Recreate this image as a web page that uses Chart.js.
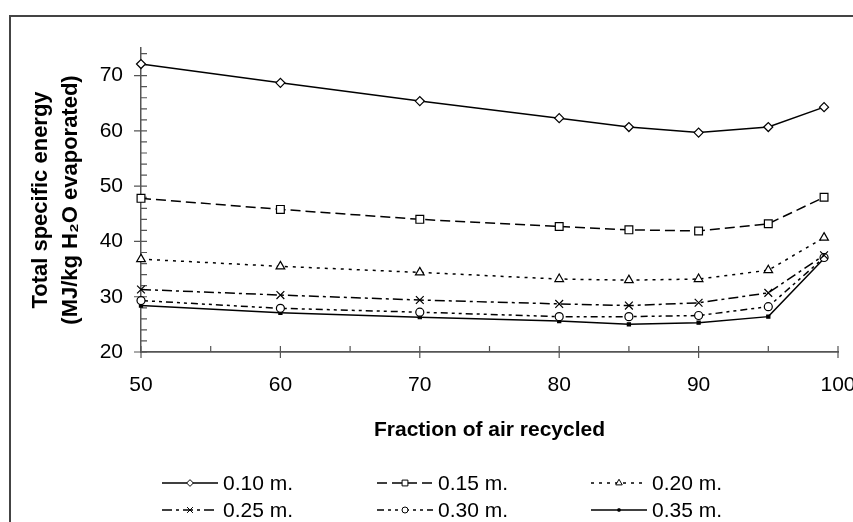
<!DOCTYPE html>
<html>
<head>
<meta charset="utf-8">
<script src="https://cdn.jsdelivr.net/npm/chart.js@4"></script>
<style>
    html, body { margin: 0; padding: 0; background: #fff; overflow: hidden; }
    #frame { position: absolute; left: 9px; top: 15px; width: 1000px; height: 1000px;
             border-left: 2px solid #444; border-top: 2px solid #444; box-sizing: border-box; }
    #wrap { position: absolute; left: 0; top: 0; width: 900px; height: 522px; }
</style>
</head>
<body>
<div id="frame"></div>
<div id="wrap"><canvas id="chart"></canvas></div>
<script>
// Data
const fractions = [50, 60, 70, 80, 85, 90, 95, 99];
const depth010 = [72.1, 68.7, 65.4, 62.3, 60.7, 59.7, 60.7, 64.3];
const depth015 = [47.8, 45.8, 44.0, 42.7, 42.1, 41.9, 43.2, 48.0];
const depth020 = [36.8, 35.5, 34.4, 33.2, 33.0, 33.2, 34.8, 40.7];
const depth025 = [31.3, 30.3, 29.4, 28.7, 28.4, 28.9, 30.7, 37.5];
const depth030 = [29.3, 27.9, 27.2, 26.4, 26.4, 26.6, 28.2, 37.1];
const depth035 = [28.4, 27.1, 26.3, 25.6, 25.0, 25.3, 26.4, 36.9];
const seriesLabels = ['0.10 m.', '0.15 m.', '0.20 m.', '0.25 m.', '0.30 m.', '0.35 m.'];
const xTicks = [50, 60, 70, 80, 90, 100];
const xMinorTicks = [55, 65, 75, 85, 95];
const yTicks = [20, 30, 40, 50, 60, 70];

const FONT = 'Arial, "Liberation Sans", sans-serif';
const AXIS_COLOR = '#555';

function toPoints(values) {
    return values.map((v, i) => ({ x: fractions[i], y: v }));
}

function makeSeries(label, values, style) {
    return Object.assign({
        label: label,
        data: toPoints(values),
        borderColor: '#000',
        borderWidth: 1.5,
        pointBorderColor: '#000',
        pointBackgroundColor: '#fff',
        pointBorderWidth: 1.2,
        tension: 0,
        clip: false
    }, style);
}

const datasets = [
    makeSeries(seriesLabels[0], depth010, { pointStyle: 'rectRot', pointRadius: 4.5 }),
    makeSeries(seriesLabels[1], depth015, { pointStyle: 'rect', pointRadius: 5.5, borderDash: [10, 5] }),
    makeSeries(seriesLabels[2], depth020, { pointStyle: 'triangle', pointRadius: 5, borderDash: [3, 5] }),
    makeSeries(seriesLabels[3], depth025, { pointStyle: 'crossRot', pointRadius: 5.5, borderDash: [10, 4, 3, 4] }),
    makeSeries(seriesLabels[4], depth030, { pointStyle: 'circle', pointRadius: 4, borderDash: [7, 4, 3, 4, 3, 4] }),
    makeSeries(seriesLabels[5], depth035, { pointStyle: 'rect', pointRadius: 2.2, pointBackgroundColor: '#000' })
];

// tick marks: majors cross the axis, minors sit inside the plot
const tickMarks = {
    id: 'tickMarks',
    beforeDatasetsDraw(chart) {
        const ctx = chart.ctx;
        const xs = chart.scales.x, ys = chart.scales.y;
        const axisY = ys.getPixelForValue(20);
        const axisX = xs.getPixelForValue(50);
        ctx.save();
        ctx.strokeStyle = AXIS_COLOR;
        ctx.lineWidth = 1.2;
        ctx.beginPath();
        xTicks.forEach(v => {
            const px = xs.getPixelForValue(v);
            ctx.moveTo(px, axisY - 6);
            ctx.lineTo(px, axisY + 6);
        });
        xMinorTicks.forEach(v => {
            const px = xs.getPixelForValue(v);
            ctx.moveTo(px, axisY - 6);
            ctx.lineTo(px, axisY);
        });
        for (let v = 20; v <= 74; v += 2) {
            const py = ys.getPixelForValue(v);
            if (v % 10 === 0) {
                ctx.moveTo(axisX - 7, py);
                ctx.lineTo(axisX + 6, py);
            } else {
                ctx.moveTo(axisX, py);
                ctx.lineTo(axisX + 6, py);
            }
        }
        ctx.stroke();
        ctx.restore();
    }
};

// legend in three columns, two rows, under the axis title
const gridLegend = {
    id: 'gridLegend',
    afterDraw(chart) {
        const ctx = chart.ctx;
        const colX = [162, 377, 591];
        const rowY = [483, 510];
        const sampleLen = 56;
        ctx.save();
        chart.data.datasets.forEach((ds, i) => {
            const x0 = colX[i % 3];
            const y0 = rowY[Math.floor(i / 3)];
            ctx.strokeStyle = ds.borderColor;
            ctx.lineWidth = ds.borderWidth;
            ctx.setLineDash(ds.borderDash || []);
            ctx.beginPath();
            ctx.moveTo(x0, y0);
            ctx.lineTo(x0 + sampleLen, y0);
            ctx.stroke();
            ctx.setLineDash([]);
            if (Chart.helpers && Chart.helpers.drawPoint) {
                ctx.strokeStyle = ds.pointBorderColor;
                ctx.fillStyle = ds.pointBackgroundColor;
                ctx.lineWidth = 1;
                Chart.helpers.drawPoint(ctx, {
                    pointStyle: ds.pointStyle,
                    radius: ds.pointRadius * 0.75,
                    borderWidth: 1,
                    rotation: 0
                }, x0 + sampleLen / 2, y0);
            }
            ctx.fillStyle = '#000';
            ctx.font = '21px ' + FONT;
            ctx.textBaseline = 'middle';
            ctx.textAlign = 'left';
            ctx.fillText(ds.label, x0 + sampleLen + 5, y0 + 1);
        });
        ctx.restore();
    }
};

Chart.defaults.font.family = FONT;
Chart.defaults.color = '#000';

const ctx = document.getElementById('chart').getContext('2d');
new Chart(ctx, {
    type: 'line',
    data: { datasets: datasets },
    plugins: [tickMarks, gridLegend],
    options: {
        responsive: true,
        maintainAspectRatio: false,
        animation: false,
        devicePixelRatio: 1,
        layout: { padding: { left: 0, top: 48, right: 62, bottom: 0 } },
        plugins: {
            legend: { display: false },
            tooltip: { enabled: false }
        },
        scales: {
            x: {
                type: 'linear',
                min: 50,
                max: 100,
                afterBuildTicks: scale => { scale.ticks = xTicks.map(v => ({ value: v })); },
                afterFit: scale => { scale.height = 170; },
                grid: { display: false, drawTicks: false },
                border: { display: true, color: AXIS_COLOR, width: 1.8 },
                ticks: { font: { size: 21 }, padding: 21, maxRotation: 0, autoSkip: false },
                title: {
                    display: true,
                    text: 'Fraction of air recycled',
                    font: { size: 21, weight: 'bold' },
                    padding: { top: 0, bottom: 79 }
                }
            },
            y: {
                type: 'linear',
                min: 20,
                max: 75,
                afterBuildTicks: scale => { scale.ticks = yTicks.map(v => ({ value: v })); },
                afterFit: scale => { scale.width = 141; },
                grid: { display: false, drawTicks: false },
                border: { display: true, color: AXIS_COLOR, width: 1.5 },
                ticks: { font: { size: 21 }, padding: 18 },
                title: {
                    display: true,
                    text: ['Total specific energy', '(MJ/kg H\u2082O evaporated)'],
                    font: { size: 22, weight: 'bold', lineHeight: 1.36 },
                    padding: { top: 26, bottom: 0 }
                }
            }
        }
    }
});
</script>
</body>
</html>
